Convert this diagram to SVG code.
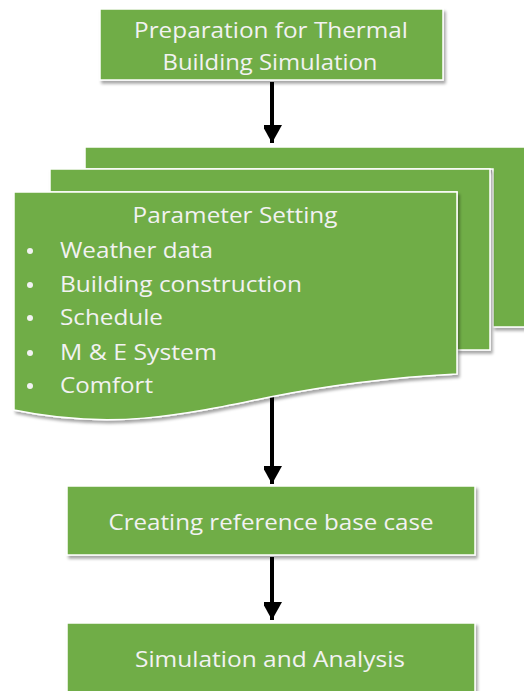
<svg xmlns="http://www.w3.org/2000/svg" width="524" height="691" viewBox="0 0 524 691">
<defs>
<filter id="sh" x="-10%" y="-10%" width="125%" height="130%">
<feDropShadow dx="2" dy="3" stdDeviation="1.5" flood-color="#000" flood-opacity="0.35"/>
</filter>
<marker id="ah" markerWidth="5" markerHeight="4.5" refX="4.5" refY="2.5" orient="auto" markerUnits="strokeWidth">
<path d="M0,0 L4.5,2.5 L0,5 Z" fill="#000"/>
</marker>
<style>
.box{fill:#70AD47;stroke:#fff;stroke-width:1.5;filter:url(#sh)}
.t{font-family:"Open Sans","Noto Sans","Liberation Sans",sans-serif;font-size:22px;fill:#F2F2F2}
.c{text-anchor:middle}
.con{stroke:#000;stroke-width:4;fill:none;marker-end:url(#ah)}
</style>
</defs>
<rect width="524" height="691" fill="#fff"/>
<g id="connectors">
<line class="con" x1="272" y1="82" x2="272" y2="143"/>
<line class="con" x1="272" y1="396" x2="272" y2="484"/>
<line class="con" x1="272" y1="557" x2="272" y2="620"/>
</g>
<g id="prep">
<rect class="box" x="100" y="9" width="343" height="71"/>
<text class="t c" x="271" y="38" textLength="274" lengthAdjust="spacingAndGlyphs">Preparation for Thermal</text>
<text class="t c" x="270" y="70" textLength="215" lengthAdjust="spacingAndGlyphs">Building Simulation</text>
</g>
<g id="params">
<path class="box" d="M85,147 L528,147 L528,327 L493,327 L493,169 L85,169 Z"/>
<path class="box" d="M50,169 L490,169 L490,350 L457,350 L457,192 L50,192 Z"/>
<path class="box" d="M14,192 L457,192 L457,374 C400,377 340,383 270,397 C180,416 110,430 14,410 Z"/>
<text class="t c" x="235" y="223" textLength="205" lengthAdjust="spacingAndGlyphs">Parameter Setting</text>
<g fill="#F2F2F2">
<circle cx="30" cy="251" r="3"/>
<circle cx="30" cy="285" r="3"/>
<circle cx="30" cy="318" r="3"/>
<circle cx="30" cy="353" r="3"/>
<circle cx="30" cy="386" r="3"/>
</g>
<text class="t" x="60" y="258" textLength="153" lengthAdjust="spacingAndGlyphs">Weather data</text>
<text class="t" x="60" y="292" textLength="242" lengthAdjust="spacingAndGlyphs">Building construction</text>
<text class="t" x="60" y="325" textLength="103" lengthAdjust="spacingAndGlyphs">Schedule</text>
<text class="t" x="60" y="360" textLength="157" lengthAdjust="spacingAndGlyphs">M &amp; E System</text>
<text class="t" x="60" y="393" textLength="93" lengthAdjust="spacingAndGlyphs">Comfort</text>
</g>
<g id="base">
<rect class="box" x="67" y="486" width="408" height="69"/>
<text class="t c" x="271" y="530" textLength="325" lengthAdjust="spacingAndGlyphs">Creating reference base case</text>
</g>
<g id="sim">
<rect class="box" x="67" y="623" width="408" height="80"/>
<text class="t c" x="270" y="667" textLength="270" lengthAdjust="spacingAndGlyphs">Simulation and Analysis</text>
</g>
</svg>
